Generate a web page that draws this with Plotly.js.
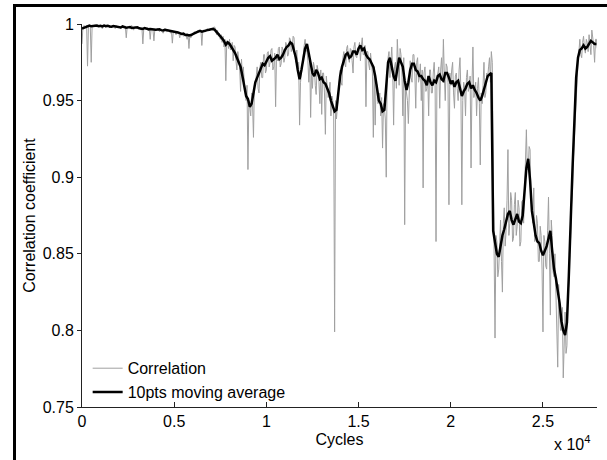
<!DOCTYPE html>
<html>
<head>
<meta charset="utf-8">
<script src="https://cdn.plot.ly/plotly-3.0.1.min.js"></script>
<style>
  html, body { margin: 0; padding: 0; background: #fff; }
  #wrap { position: relative; width: 607px; height: 460px; overflow: hidden; }
  #chart { width: 607px; height: 460px; }
  #frame { position: absolute; left: 13px; top: 4px; width: 700px; height: 600px;
           border-left: 3px solid #000; border-top: 3px solid #000; pointer-events: none; z-index: 10; }
</style>
</head>
<body>
<div id="wrap">
  <div id="chart"></div>
  <div id="frame"></div>
</div>
<script>
// Sampling of the cycle axis (cycles)
const corrStart = 0, corrStep = 50;    // raw correlation samples
const avgStart = 0, avgStep = 100;     // moving-average samples

// Correlation coefficient, one value per 50 cycles
const correlation = [
  0.987, 0.998, 0.999, 0.9985, 0.998, 0.999, 0.9725, 0.999, 0.999, 0.998, 0.975, 0.999, 0.999, 0.998, 0.9995, 0.999, 0.998, 0.9995, 0.999, 0.998,
  0.9985, 0.999, 0.997, 0.9985, 0.9995, 0.998, 0.998, 0.9995, 0.999, 0.998, 0.9975, 0.999, 0.9985, 0.998, 0.999, 0.9985, 0.997, 0.999, 0.998, 0.9985,
  0.998, 0.9985, 0.997, 0.9985, 0.999, 0.998, 0.998, 0.9985, 0.991, 0.998, 0.998, 0.9975, 0.9975, 0.9985, 0.999, 0.9975, 0.996, 0.998, 0.998, 0.9975,
  0.997, 0.998, 0.998, 0.997, 0.996, 0.9975, 0.987, 0.997, 0.998, 0.9965, 0.997, 0.9975, 0.9955, 0.997, 0.990, 0.997, 0.997, 0.996, 0.989, 0.9965,
  0.996, 0.9968, 0.997, 0.996, 0.995, 0.9965, 0.996, 0.995, 0.994, 0.9962, 0.997, 0.996, 0.995, 0.9955, 0.996, 0.995, 0.994, 0.9955, 0.9875, 0.995,
  0.995, 0.9945, 0.993, 0.995, 0.995, 0.994, 0.991, 0.994, 0.994, 0.993, 0.992, 0.994, 0.993, 0.9925, 0.990, 0.993, 0.984, 0.993, 0.991, 0.9925,
  0.993, 0.994, 0.995, 0.994, 0.994, 0.9955, 0.996, 0.995, 0.995, 0.996, 0.986, 0.9955, 0.996, 0.995, 0.995, 0.9965, 0.997, 0.996, 0.996, 0.9968,
  0.997, 0.996, 0.996, 0.998, 0.998, 0.995, 0.993, 0.996, 0.992, 0.994, 0.990, 0.993, 0.988, 0.992, 0.985, 0.990, 0.963, 0.989, 0.988, 0.984,
  0.990, 0.983, 0.984, 0.988, 0.976, 0.986, 0.985, 0.976, 0.970, 0.982, 0.978, 0.972, 0.956, 0.977, 0.965, 0.972, 0.962, 0.955, 0.950, 0.960,
  0.905, 0.950, 0.945, 0.940, 0.955, 0.948, 0.926, 0.960, 0.960, 0.965, 0.972, 0.958, 0.955, 0.972, 0.975, 0.965, 0.965, 0.980, 0.980, 0.968,
  0.970, 0.981, 0.982, 0.972, 0.975, 0.983, 0.984, 0.970, 0.972, 0.981, 0.946, 0.979, 0.976, 0.984, 0.985, 0.972, 0.974, 0.985, 0.983, 0.975,
  0.978, 0.988, 0.986, 0.979, 0.980, 0.991, 0.990, 0.982, 0.984, 0.992, 0.991, 0.978, 0.975, 0.983, 0.968, 0.975, 0.934, 0.962, 0.970, 0.978,
  0.980, 0.986, 0.990, 0.982, 0.983, 0.976, 0.962, 0.978, 0.939, 0.970, 0.958, 0.975, 0.972, 0.960, 0.954, 0.973, 0.970, 0.962, 0.948, 0.970,
  0.941, 0.968, 0.968, 0.955, 0.928, 0.966, 0.960, 0.952, 0.955, 0.962, 0.940, 0.953, 0.950, 0.940, 0.799, 0.950, 0.938, 0.946, 0.952, 0.962,
  0.970, 0.962, 0.960, 0.978, 0.982, 0.974, 0.972, 0.984, 0.986, 0.978, 0.975, 0.984, 0.983, 0.976, 0.968, 0.985, 0.988, 0.979, 0.978, 0.984,
  0.985, 0.988, 0.976, 0.986, 0.991, 0.980, 0.980, 0.986, 0.946, 0.982, 0.982, 0.974, 0.970, 0.981, 0.975, 0.968, 0.926, 0.972, 0.934, 0.962,
  0.960, 0.948, 0.950, 0.955, 0.940, 0.952, 0.919, 0.948, 0.945, 0.938, 0.900, 0.968, 0.978, 0.982, 0.965, 0.980, 0.985, 0.970, 0.934, 0.972,
  0.975, 0.958, 0.990, 0.976, 0.960, 0.984, 0.980, 0.970, 0.940, 0.978, 0.869, 0.960, 0.955, 0.950, 0.935, 0.966, 0.976, 0.965, 0.962, 0.980,
  0.980, 0.968, 0.945, 0.975, 0.978, 0.962, 0.965, 0.974, 0.950, 0.970, 0.893, 0.968, 0.972, 0.956, 0.958, 0.966, 0.940, 0.970, 0.970, 0.955,
  0.955, 0.968, 0.975, 0.960, 0.858, 0.966, 0.968, 0.972, 0.945, 0.970, 0.978, 0.962, 0.990, 0.966, 0.950, 0.974, 0.972, 0.962, 0.882, 0.968,
  0.960, 0.970, 0.975, 0.955, 0.945, 0.966, 0.968, 0.958, 0.950, 0.970, 0.978, 0.955, 0.882, 0.950, 0.962, 0.958, 0.940, 0.965, 0.970, 0.956,
  0.958, 0.966, 0.906, 0.960, 0.985, 0.952, 0.955, 0.962, 0.940, 0.958, 0.965, 0.948, 0.908, 0.955, 0.948, 0.960, 0.975, 0.952, 0.955, 0.968,
  0.965, 0.972, 0.978, 0.962, 0.982, 0.975, 0.870, 0.850, 0.795, 0.862, 0.858, 0.835, 0.840, 0.865, 0.872, 0.845, 0.825, 0.870, 0.880, 0.855,
  0.865, 0.885, 0.918, 0.862, 0.870, 0.890, 0.885, 0.858, 0.860, 0.882, 0.890, 0.862, 0.868, 0.885, 0.880, 0.855, 0.858, 0.884, 0.885, 0.870,
  0.890, 0.900, 0.931, 0.905, 0.905, 0.920, 0.918, 0.885, 0.880, 0.870, 0.893, 0.858, 0.860, 0.875, 0.870, 0.845, 0.845, 0.868, 0.862, 0.840,
  0.799, 0.862, 0.858, 0.842, 0.840, 0.865, 0.887, 0.850, 0.810, 0.872, 0.862, 0.838, 0.835, 0.850, 0.828, 0.812, 0.776, 0.830, 0.815, 0.800,
  0.800, 0.815, 0.769, 0.792, 0.812, 0.785, 0.790, 0.822, 0.830, 0.850, 0.860, 0.882, 0.890, 0.912, 0.925, 0.945, 0.958, 0.972, 0.975, 0.982,
  0.990, 0.980, 0.978, 0.988, 0.992, 0.984, 0.981, 0.990, 0.988, 0.982, 0.993, 0.986, 0.980, 0.996, 0.991, 0.986, 0.975, 0.990, 0.990, 0.984
];

// 10pts moving average, one value per 100 cycles
const movingAverage = [
  0.997, 0.9975, 0.998, 0.9988, 0.999, 0.9985, 0.9988, 0.9992, 0.999, 0.9986,
  0.9988, 0.9984, 0.999, 0.9986, 0.9989, 0.9984, 0.9982, 0.9986, 0.9985, 0.998,
  0.998, 0.9977, 0.9984, 0.998, 0.9976, 0.9978, 0.998, 0.9974, 0.9975, 0.9978,
  0.9978, 0.9972, 0.997, 0.9968, 0.9974, 0.997, 0.9966, 0.9968, 0.9968, 0.9964,
  0.9962, 0.9966, 0.9965, 0.996, 0.9958, 0.9962, 0.996, 0.9955, 0.9952, 0.9953,
  0.995, 0.9948, 0.9945, 0.994, 0.9935, 0.9938, 0.9928, 0.993, 0.9925, 0.9928,
  0.9935, 0.994, 0.9945, 0.995, 0.9955, 0.995, 0.9955, 0.996, 0.996, 0.9963,
  0.9965, 0.9968, 0.9962, 0.995, 0.9935, 0.992, 0.9905, 0.989, 0.9865, 0.988,
  0.987, 0.985, 0.983, 0.981, 0.978, 0.975, 0.972, 0.966, 0.958, 0.953,
  0.951, 0.946, 0.948, 0.956, 0.962, 0.965, 0.968, 0.971, 0.974, 0.973,
  0.976, 0.978, 0.979, 0.976, 0.977, 0.978, 0.980, 0.977, 0.978, 0.980,
  0.983, 0.985, 0.986, 0.988, 0.987, 0.983, 0.978, 0.970, 0.964, 0.970,
  0.978, 0.984, 0.987, 0.980, 0.975, 0.968, 0.966, 0.970, 0.968, 0.964,
  0.965, 0.962, 0.961, 0.958, 0.955, 0.950, 0.947, 0.943, 0.944, 0.955,
  0.966, 0.972, 0.977, 0.980, 0.981, 0.978, 0.979, 0.982, 0.982, 0.980,
  0.984, 0.986, 0.983, 0.984, 0.980, 0.978, 0.977, 0.974, 0.972, 0.966,
  0.956, 0.950, 0.948, 0.943, 0.944, 0.960, 0.975, 0.978, 0.971, 0.966,
  0.963, 0.972, 0.978, 0.975, 0.972, 0.963, 0.957, 0.962, 0.970, 0.974,
  0.974, 0.970, 0.969, 0.966, 0.966, 0.964, 0.963, 0.960, 0.966, 0.962,
  0.960, 0.963, 0.962, 0.966, 0.967, 0.964, 0.963, 0.968, 0.968, 0.965,
  0.961, 0.963, 0.959, 0.962, 0.963, 0.958, 0.953, 0.956, 0.958, 0.961,
  0.962, 0.958, 0.960, 0.957, 0.955, 0.952, 0.950, 0.953, 0.958, 0.962,
  0.966, 0.967, 0.968, 0.865, 0.858, 0.850, 0.848, 0.855, 0.862, 0.866,
  0.872, 0.876, 0.878, 0.872, 0.869, 0.873, 0.876, 0.871, 0.870, 0.875,
  0.888, 0.906, 0.912, 0.898, 0.878, 0.868, 0.862, 0.858, 0.857, 0.852,
  0.849, 0.852, 0.855, 0.860, 0.865, 0.852, 0.840, 0.834, 0.826, 0.818,
  0.806, 0.800, 0.797, 0.805, 0.835, 0.875, 0.905, 0.935, 0.965, 0.978,
  0.983, 0.984, 0.986, 0.984, 0.985, 0.987, 0.989, 0.988, 0.987, 0.987
];

// Tick labels
const xTickVals = [0, 5000, 10000, 15000, 20000, 25000];
const xTickText = ['0', '0.5', '1', '1.5', '2', '2.5'];
const yTickVals = [0.75, 0.8, 0.85, 0.9, 0.95, 1];
const yTickText = ['0.75', '0.8', '0.85', '0.9', '0.95', '1'];

const seriesNames = ['Correlation', '10pts moving average'];

const corrX = correlation.map((_, i) => corrStart + i * corrStep);
const avgX = movingAverage.map((_, i) => avgStart + i * avgStep);

const FONT = 'Liberation Sans, Arial, sans-serif';

const traces = [
  { x: corrX, y: correlation, type: 'scatter', mode: 'lines', name: seriesNames[0],
    line: { color: '#a0a0a0', width: 1 } },
  { x: avgX, y: movingAverage, type: 'scatter', mode: 'lines', name: seriesNames[1],
    line: { color: '#000000', width: 2.5 } }
];

const layout = {
  width: 607, height: 460,
  margin: { l: 82, r: 10, t: 24, b: 53, pad: 0 },
  paper_bgcolor: '#ffffff', plot_bgcolor: '#ffffff',
  font: { family: FONT, size: 16, color: '#000' },
  showlegend: true,
  legend: { x: 0.011, y: -0.006, xanchor: 'left', yanchor: 'bottom',
            bgcolor: 'rgba(0,0,0,0)', borderwidth: 0, font: { family: FONT, size: 16, color: '#000' } },
  xaxis: {
    range: [0, 27930], showgrid: false, zeroline: false,
    showline: true, linecolor: '#222', linewidth: 1, mirror: false,
    ticks: 'inside', ticklen: 5, tickcolor: '#222', tickwidth: 1,
    tickvals: xTickVals, ticktext: xTickText,
    tickfont: { family: FONT, size: 16, color: '#000' },
    title: { text: 'Cycles', font: { family: FONT, size: 16, color: '#000' }, standoff: 4 }
  },
  yaxis: {
    range: [0.75, 1.0], showgrid: false, zeroline: false,
    showline: true, linecolor: '#222', linewidth: 1, mirror: false,
    ticks: 'outside', ticklen: 4, tickcolor: '#222', tickwidth: 1,
    tickvals: yTickVals, ticktext: yTickText,
    tickfont: { family: FONT, size: 16, color: '#000' },
    title: { text: 'Correlation coefficient', font: { family: FONT, size: 16, color: '#000' }, standoff: 3 }
  },
  annotations: [
    { xref: 'paper', yref: 'paper', x: 0.99, y: -0.094, xanchor: 'right', yanchor: 'middle',
      text: 'x 10<sup>4</sup>', showarrow: false, font: { family: FONT, size: 16, color: '#000' } }
  ]
};

Plotly.newPlot('chart', traces, layout, { staticPlot: true, displayModeBar: false });
</script>
</body>
</html>
